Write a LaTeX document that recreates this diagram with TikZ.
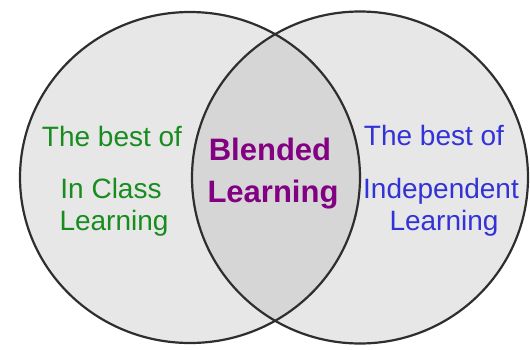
\documentclass[tikz,border=0pt]{standalone}
\usepackage{fontspec}
\setmainfont{Liberation Sans}
\usepackage{tikz}
\usepackage{xcolor}
\usetikzlibrary{positioning}

\definecolor{classgreen}{RGB}{24,140,30}
\definecolor{indepblue}{RGB}{50,50,215}
\definecolor{blendpurple}{RGB}{130,0,130}
\definecolor{venngray}{RGB}{231,231,231}
\definecolor{middlegray}{RGB}{214,214,214}

\tikzset{
  ring/.style={line width=2.2pt, draw=black!82},
  plaintext/.style={anchor=base, inner sep=0pt, font=\fontsize{28}{28}\selectfont},
  boldtext/.style={anchor=base, inner sep=0pt, font=\fontsize{31}{31}\selectfont\bfseries, text=blendpurple}
}

\begin{document}
\begin{tikzpicture}[x=1pt,y=1pt]
\useasboundingbox (0,0) rectangle (530,349);
\fill [venngray] (190,171.5) ellipse (170 and 165.5);
\fill [venngray] (360,171.5) ellipse (168 and 166);
\begin{scope}
\clip (190,171.5) ellipse (170 and 165.5);
\fill [middlegray] (360,171.5) ellipse (168 and 166);
\end{scope}
\draw [ring] (190,171.5) ellipse (170 and 165.5);
\draw [ring] (360,171.5) ellipse (168 and 166);
% left side
\node [plaintext, text=classgreen] (bestL) at (112,203) {The best of};
\node [plaintext, text=classgreen] (inclass) at (111,151) {In Class};
\node [plaintext, text=classgreen] (learnL) at (114,119) {Learning};
% middle
\node [boldtext] (blended) at (270,189) {Blended};
\node [boldtext] (learnC) at (273,147) {Learning};
% right side
\node [plaintext, text=indepblue] (bestR) at (434,204) {The best of};
\node [plaintext, text=indepblue] (indep) at (441,151) {Independent};
\node [plaintext, text=indepblue] (learnR) at (444,119) {Learning};
\end{tikzpicture}
\end{document}
